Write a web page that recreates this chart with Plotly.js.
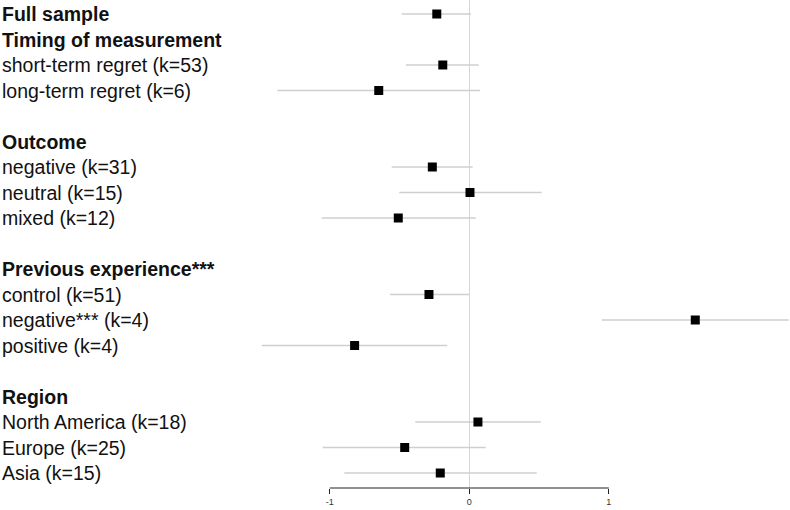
<!DOCTYPE html>
<html>
<head>
<meta charset="utf-8">
<script src="https://cdn.plot.ly/plotly-3.0.1.min.js"></script>
<style>
  html, body { margin: 0; padding: 0; background: #fff; }
  #plot { width: 790px; height: 510px; }
</style>
</head>
<body>
<div id="plot"></div>
<script>
  // rows from top to bottom, blank strings are spacer rows
  var rowLabels = [
    'Full sample',
    'Timing of measurement',
    'short-term regret (k=53)',
    'long-term regret (k=6)',
    '',
    'Outcome',
    'negative (k=31)',
    'neutral (k=15)',
    'mixed (k=12)',
    '',
    'Previous experience***',
    'control (k=51)',
    'negative*** (k=4)',
    'positive (k=4)',
    '',
    'Region',
    'North America (k=18)',
    'Europe (k=25)',
    'Asia (k=15)'
  ];
  var boldRows = [1, 1, 0, 0, 0, 1, 0, 0, 0, 0, 1, 0, 0, 0, 0, 1, 0, 0, 0];

  var estimate = [-0.233, null, -0.190, -0.649, null, null, -0.265, 0.005, -0.509, null,
                  null, -0.289, 1.620, -0.822, null, null, 0.062, -0.463, -0.208];
  var ciLower  = [-0.485, null, -0.454, -1.376, null, null, -0.556, -0.502, -1.058, null,
                  null, -0.568, 0.949, -1.488, null, null, -0.387, -1.051, -0.896];
  var ciUpper  = [0.012, null, 0.067, 0.077, null, null, 0.024, 0.519, 0.046, null,
                  null, -0.002, 2.290, -0.158, null, null, 0.512, 0.118, 0.483];

  var xTicks = [-1, 0, 1];
  var xTickText = ['-1', '0', '1'];

  var rowIdx = rowLabels.map(function(d, i){ return i; });
  var errPlus = estimate.map(function(v, i){ return v === null ? null : ciUpper[i] - v; });
  var errMinus = estimate.map(function(v, i){ return v === null ? null : v - ciLower[i]; });

  var trace = {
    x: estimate,
    y: rowIdx,
    type: 'scatter',
    mode: 'markers',
    marker: { symbol: 'square', size: 9, color: '#000' },
    error_x: {
      type: 'data',
      symmetric: false,
      array: errPlus,
      arrayminus: errMinus,
      width: 0,
      thickness: 1.3,
      color: '#cfcfcf'
    },
    hoverinfo: 'skip',
    showlegend: false,
    cliponaxis: false
  };

  var annotations = rowLabels.map(function(lab, i){
    return {
      xref: 'paper', yref: 'y',
      x: 0, y: i,
      xanchor: 'left', yanchor: 'middle',
      text: boldRows[i] ? '<b>' + lab + '</b>' : lab,
      showarrow: false,
      font: { family: 'Liberation Sans, Arial, sans-serif', size: 19.5, color: '#111' }
    };
  });

  var layout = {
    width: 790,
    height: 510,
    margin: { l: 0, r: 0, t: 0, b: 22, pad: 0 },
    paper_bgcolor: '#fff',
    plot_bgcolor: '#fff',
    xaxis: {
      range: [-3.364, 2.299],
      showgrid: false,
      showline: false,
      zeroline: true,
      zerolinecolor: '#d6d6d6',
      zerolinewidth: 1,
      tickvals: xTicks,
      ticktext: xTickText,
      ticks: 'outside',
      ticklen: 5,
      tickwidth: 1,
      tickcolor: '#222',
      tickfont: { family: 'Liberation Sans, Arial, sans-serif', size: 9, color: '#333' },
      fixedrange: true
    },
    yaxis: {
      range: [18.588, -0.549],
      visible: false,
      fixedrange: true
    },
    shapes: [
      // axis line only between the outer ticks
      { type: 'line', xref: 'x', yref: 'paper', x0: xTicks[0], x1: xTicks[xTicks.length - 1],
        y0: 0, y1: 0, line: { color: '#222', width: 1 } }
    ],
    annotations: annotations
  };

  Plotly.newPlot('plot', [trace], layout, { staticPlot: true });
</script>
</body>
</html>
